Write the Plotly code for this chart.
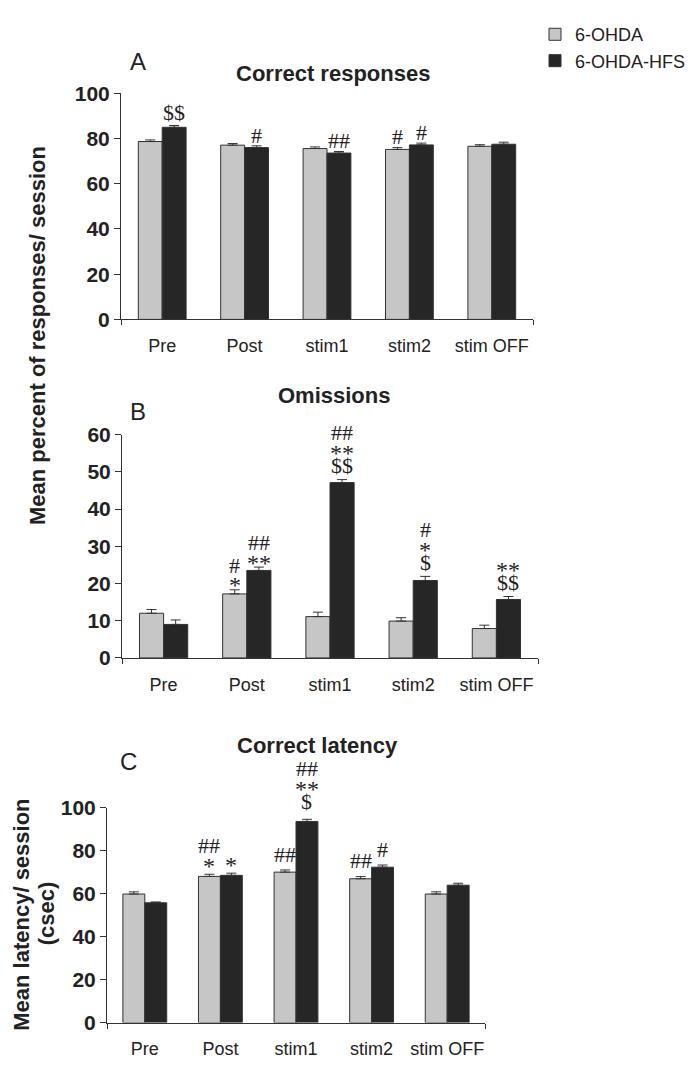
import plotly.graph_objects as go

# The page body has an 8px margin, so the figure is drawn 8px right and down.
PAGE_OFF = 8
W, H = 698 - PAGE_OFF, 1074 - PAGE_OFF

categories = ["Pre", "Post", "stim1", "stim2", "stim OFF"]
series_names = ["6-OHDA", "6-OHDA-HFS"]

# Panel A: Correct responses (%)
a_gray = [78.7, 77.1, 75.6, 75.2, 76.6]
a_gray_err = [0.7, 0.7, 0.7, 0.8, 0.7]
a_black = [85.0, 76.0, 73.6, 77.2, 77.5]
a_black_err = [0.8, 0.8, 0.7, 0.8, 0.9]
a_gray_marks = [[], [], [], ["#"], []]
a_black_marks = [["$$"], ["#"], ["##"], ["#"], []]

# Panel B: Omissions (%)
b_gray = [12.0, 17.2, 11.1, 9.9, 7.9]
b_gray_err = [1.0, 1.1, 1.2, 0.9, 0.9]
b_black = [9.0, 23.5, 47.1, 20.8, 15.7]
b_black_err = [1.2, 0.9, 0.8, 1.1, 0.8]
b_gray_marks = [[], ["*", "#"], [], [], []]
b_black_marks = [[], ["**", "##"], ["$$", "**", "##"], ["$", "*", "#"], ["$$", "**"]]

# Panel C: Correct latency (csec)
c_gray = [59.9, 68.1, 70.1, 67.0, 59.9]
c_gray_err = [1.0, 1.0, 1.0, 1.0, 1.0]
c_black = [55.8, 68.6, 93.7, 72.4, 64.0]
c_black_err = [0.4, 1.0, 1.0, 1.0, 0.9]
c_gray_marks = [[], ["*", "##"], ["##"], ["##"], []]
c_black_marks = [[], ["*"], ["$", "**", "##"], ["#"], []]

panel_titles = ["Correct responses", "Omissions", "Correct latency"]
panel_letters = ["A", "B", "C"]
y_ranges = [[0, 100], [0, 60], [0, 100]]
y_dticks = [20, 10, 20]
ab_ytitle = "Mean percent of responses/ session"
c_ytitle_lines = ["Mean latency/ session", "(csec)"]

GRAY = "#c6c6c6"
BLACK = "#262626"
EDGE = "#333333"
TXT = "#222222"
SANS = "Liberation Sans, Arial, sans-serif"
SERIF = "Liberation Serif, Times New Roman, serif"
BARGAP = 0.42

# marker glyph styling: font size, glyph bottom / top (em, relative to baseline)
GLYPH = {"$": (22, -0.09, 0.73), "#": (22, 0.0, 0.68), "*": (24, 0.31, 0.68)}
MARK_LIFT = [2, 3, 7]   # px gap between error cap and first marker, per panel
MARK_GAP = 4


def px(x, y):
    """reference-window pixels -> paper coords of the (offset) figure"""
    return (x - PAGE_OFF) / W, 1 - (y - PAGE_OFF) / H


# plot-area boxes in window pixels: (left, right, top, bottom)
boxes = [(121, 533, 83, 314), (122, 538, 431.7, 660), (107, 485, 813.3, 1032.7)]

panels = [
    (a_gray, a_gray_err, a_black, a_black_err, a_gray_marks, a_black_marks),
    (b_gray, b_gray_err, b_black, b_black_err, b_gray_marks, b_black_marks),
    (c_gray, c_gray_err, c_black, c_black_err, c_gray_marks, c_black_marks),
]

fig = go.Figure()
xs = list(range(len(categories)))
annotations = []

for p, (g, ge, b, be, gm, bm) in enumerate(panels):
    suffix = "" if p == 0 else str(p + 1)
    xa, ya = "x" + suffix, "y" + suffix
    for name, vals, errs, color in ((series_names[0], g, ge, GRAY), (series_names[1], b, be, BLACK)):
        fig.add_trace(go.Bar(
            x=xs, y=vals, name=name, xaxis=xa, yaxis=ya,
            marker=dict(color=color, line=dict(color=EDGE, width=1)),
            error_y=dict(type="data", symmetric=False, array=errs,
                         arrayminus=[0] * len(errs), color=EDGE, thickness=1, width=5),
            showlegend=(p == 0), legendgroup=name,
        ))
    off = (1 - BARGAP) / 4
    for marks, vals, errs, sign in ((gm, g, ge, -1), (bm, b, be, 1)):
        for i, stack in enumerate(marks):
            bottom = MARK_LIFT[p]
            for txt in stack:
                size, gmin, gmax = GLYPH[txt[0]]
                baseline = bottom - gmin * size
                top = baseline + gmax * size
                annotations.append(dict(
                    x=i + sign * off, y=vals[i] + errs[i], xref=xa, yref=ya,
                    text=txt, showarrow=False, yanchor="bottom", xanchor="center",
                    yshift=baseline - (0.216 * size + 1),
                    font=dict(family=SERIF, size=size, color=TXT),
                ))
                bottom = top + MARK_GAP

layout_axes = {}
for p in range(3):
    l, r, t, bt = boxes[p]
    suffix = "" if p == 0 else str(p + 1)
    x0, y0 = px(l, bt)
    x1, y1 = px(r, t)
    layout_axes["xaxis" + suffix] = dict(
        domain=[x0, x1], anchor="y" + suffix, range=[-0.5, len(categories) - 0.5],
        tickmode="array", tickvals=xs, ticktext=categories,
        showline=True, linecolor=EDGE, linewidth=1,
        ticks="outside", ticklen=10, tickcolor="rgba(0,0,0,0)",
        minor=dict(tickmode="array", tickvals=[-0.5, len(categories) - 0.5],
                   ticks="outside", ticklen=5, tickcolor=EDGE, tickwidth=1),
        tickfont=dict(family=SANS, size=18, color=TXT),
        showgrid=False, zeroline=False, fixedrange=True,
    )
    layout_axes["yaxis" + suffix] = dict(
        domain=[y0, y1], anchor="x" + suffix,
        range=y_ranges[p], dtick=y_dticks[p], tick0=0,
        showline=True, linecolor=EDGE, linewidth=1,
        ticks="outside", ticklen=6, tickcolor=EDGE,
        tickfont=dict(family=SANS, size=21, color=TXT, weight="bold"),
        showgrid=False, zeroline=False, fixedrange=True,
    )

# titles, letters, axis titles (window pixel centres)
title_pos = [(333, 63), (334, 392), (317, 750)]
letter_pos = [(138, 50), (138, 408), (128, 766)]
for p in range(3):
    x, y = px(*title_pos[p])
    annotations.append(dict(x=x, y=y, xref="paper", yref="paper", text=panel_titles[p],
                            showarrow=False, xanchor="center", yanchor="middle",
                            font=dict(family=SANS, size=22, color=TXT, weight="bold")))
    x, y = px(*letter_pos[p])
    annotations.append(dict(x=x, y=y, xref="paper", yref="paper", text=panel_letters[p],
                            showarrow=False, xanchor="center", yanchor="middle",
                            font=dict(family=SANS, size=24, color=TXT)))

x, y = px(37, 331)
annotations.append(dict(x=x, y=y, xref="paper", yref="paper",
                        text=ab_ytitle, textangle=-90,
                        showarrow=False, xanchor="center", yanchor="middle",
                        font=dict(family=SANS, size=22, color=TXT, weight="bold")))
for line, (cx, cy) in zip(c_ytitle_lines, [(21.5, 923), (46, 921)]):
    x, y = px(cx, cy)
    annotations.append(dict(x=x, y=y, xref="paper", yref="paper",
                            text=line, textangle=-90,
                            showarrow=False, xanchor="center", yanchor="middle",
                            font=dict(family=SANS, size=22, color=TXT, weight="bold")))

lx, ly = px(535, 4)
fig.update_layout(
    width=W, height=H, margin=dict(l=0, r=0, t=0, b=0),
    paper_bgcolor="white", plot_bgcolor="white",
    barmode="group", bargap=BARGAP, bargroupgap=0,
    annotations=annotations,
    legend=dict(x=lx, y=ly, xanchor="left", yanchor="top",
                font=dict(family=SANS, size=18, color=TXT),
                bgcolor="rgba(0,0,0,0)", tracegroupgap=0),
    **layout_axes,
)

fig.write_html("out.html")
